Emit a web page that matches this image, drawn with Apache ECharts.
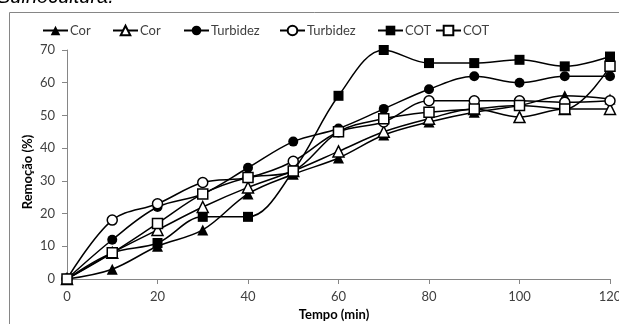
<!DOCTYPE html>
<html><head><meta charset="utf-8">
<script src="https://cdn.jsdelivr.net/npm/echarts@6/dist/echarts.min.js"></script>
<style>html,body{margin:0;padding:0;background:#fff}#c{width:619px;height:324px}</style>
</head><body><div id="c"></div>
<script>
const tempo = [0,10,20,30,40,50,60,70,80,90,100,110,120];
const corA = [0,3,10,15,26,32,37,44,48,51,53,56,55];
const corB = [0,8,15,22,28,33,39,45,49,52,49.5,52,52];
const turbA = [0,12,22,26,34,42,46,52,58,62,60,62,62];
const turbB = [0,18,23,29.5,31,36,45,48,54.5,54.5,54.5,54,54.5];
const cotA = [0,8,11,19,19,33,56,70,66,66,67,65,68];
const cotB = [0,8,17,26,31,33,45,49,51,52,53,52,65];
const xTicks = [0,20,40,60,80,100,120];
const yTicks = [0,10,20,30,40,50,60,70];

const names = ['s1','s2','s3','s4','s5','s6'];
const labels = {s1:'Cor',s2:'Cor',s3:'Turbidez',s4:'Turbidez',s5:'COT',s6:'COT'};
const dataSets = [corA,corB,turbA,turbB,cotA,cotB];
const symbols = ['triangle','triangle','circle','circle','rect','rect'];
const filled = [true,false,true,false,true,false];
const legLeft = [42,112,183,279,377,435];

const chart = echarts.init(document.getElementById('c'));
const series = names.map((n,i)=>({
  name:n, type:'line', smooth:0.35,
  data: tempo.map((t,j)=>[t,dataSets[i][j]]),
  symbol: symbols[i], symbolSize: symbols[i]==='triangle'?11:10,
  lineStyle:{color:'#000',width:1.5},
  itemStyle:{color: filled[i]?'#000':'#fff', borderColor:'#000', borderWidth: filled[i]?0:1.5},
  emphasis:{disabled:true}, animation:false, z: filled[i]?3:4
}));
const legends = names.map((n,i)=>({
  data:[n], left: legLeft[i], top: 24, itemWidth:25, itemHeight:12, itemGap:0,
  padding:0, formatter: nm=>labels[nm],
  lineStyle:{width:2},
  textStyle:{fontFamily:'Lato', fontSize:13, color:'#404040', padding:[0,0,0,-3]}
}));
chart.setOption({
  animation:false,
  legend: legends,
  grid:{left:67,right:9,top:50,bottom:45,containLabel:false,outerBoundsMode:'none'},
  xAxis:{type:'value',min:xTicks[0],max:xTicks[xTicks.length-1],interval:20,
    axisLine:{lineStyle:{color:'#868686'}}, axisTick:{show:true,length:5,lineStyle:{color:'#868686'}},
    splitLine:{show:false}, axisLabel:{fontFamily:'Lato',fontSize:13,color:'#404040',margin:11}},
  yAxis:{type:'value',min:yTicks[0],max:yTicks[yTicks.length-1],interval:10,
    axisLine:{show:true,lineStyle:{color:'#868686'}}, axisTick:{show:true,length:5,lineStyle:{color:'#868686'}},
    splitLine:{show:false}, axisLabel:{fontFamily:'Lato',fontSize:13,color:'#404040',margin:12}},
  graphic:[
    {type:'line',shape:{x1:9.5,y1:12.5,x2:619,y2:12.5},style:{stroke:'#868686',lineWidth:1}},
    {type:'line',shape:{x1:9.5,y1:12.5,x2:9.5,y2:324},style:{stroke:'#868686',lineWidth:1}},
    {type:'text',left:-3,top:-13,style:{text:'Suinocultura.',font:'italic 20px "Liberation Sans"',fill:'#000'}},
    {type:'text',x:334,y:315,style:{text:'Tempo (min)',font:'bold 13px Lato',fill:'#000',textAlign:'center',textVerticalAlign:'middle'}},
    {type:'text',x:28,y:172,rotation:Math.PI/2,style:{text:'Remoção (%)',font:'bold 13px Lato',fill:'#000',textAlign:'center',textVerticalAlign:'middle'}}
  ],
  series
});
</script></body></html>
